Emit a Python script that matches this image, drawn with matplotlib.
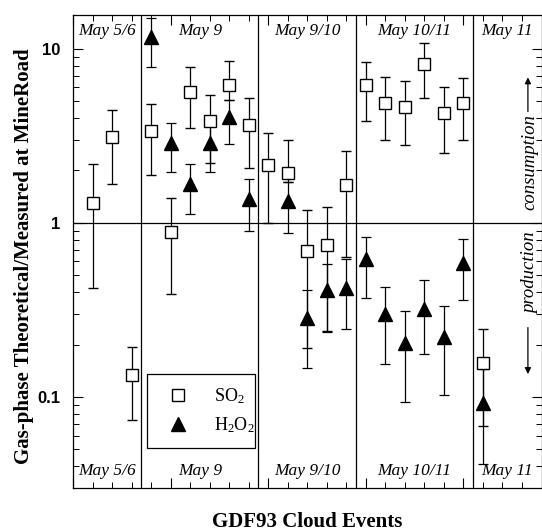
import numpy as np
import matplotlib
matplotlib.use("Agg")
import matplotlib.pyplot as plt
from matplotlib.ticker import LogLocator, NullFormatter, FixedLocator, MultipleLocator

# event windows and labels
EVENTS = ["May 5/6", "May 9", "May 9/10", "May 10/11", "May 11"]
EVENT_BOUNDS = [0, 3.5, 9.5, 14.5, 20.5, 24]

# SO2 ratio: sample index, value, lower, upper
SO2_X = [1, 2, 3, 4, 5, 6, 7, 8, 9, 10, 11, 12, 13, 14, 15, 16, 17, 18, 19, 20, 21]
SO2_V = [1.30, 3.12, 0.134, 3.38, 0.89, 5.67, 3.86, 6.2, 3.66, 2.15, 1.94, 0.69, 0.75,
         1.65, 6.2, 4.9, 4.64, 8.2, 4.29, 4.9, 0.157]
SO2_LO = [0.42, 1.68, 0.074, 1.89, 0.39, 3.52, 2.21, 5.1, 2.07, 1.0, 1.72, 0.19, 0.24,
          0.64, 3.86, 3.0, 2.8, 5.2, 2.53, 3.0, 0.068]
SO2_HI = [2.18, 4.46, 0.194, 4.83, 1.39, 7.87, 5.44, 8.5, 5.2, 3.29, 3.0, 1.19, 1.24,
          2.6, 8.4, 6.9, 6.56, 10.8, 6.0, 6.8, 0.246]

# H2O2 ratio
H2O2_X = [4, 5, 6, 7, 8, 9, 11, 12, 13, 14, 15, 16, 17, 18, 19, 20, 21]
H2O2_V = [11.6, 2.88, 1.67, 2.88, 4.06, 1.37, 1.34, 0.284, 0.41, 0.42, 0.62, 0.30,
          0.204, 0.32, 0.22, 0.59, 0.092]
H2O2_LO = [7.87, 1.96, 1.13, 1.96, 2.84, 0.90, 0.875, 0.147, 0.235, 0.246, 0.37, 0.155,
           0.093, 0.177, 0.103, 0.36, 0.041]
H2O2_HI = [14.9, 3.75, 2.18, 4.0, 5.1, 1.79, 1.72, 0.41, 0.58, 0.62, 0.83, 0.43,
           0.31, 0.47, 0.334, 0.81, 0.145]

SERIF = "Liberation Serif"
SANS = "Liberation Sans"

plt.rcParams["mathtext.fontset"] = "custom"
plt.rcParams["mathtext.rm"] = SERIF
plt.rcParams["mathtext.it"] = SERIF + ":italic"


def errs(v, lo, hi):
    v = np.array(v)
    return np.vstack([v - np.array(lo), np.array(hi) - v])


def main():
    fig = plt.figure(figsize=(5.42, 5.31), dpi=100)
    ax = fig.add_axes([73 / 542, 43 / 531, 468.5 / 542, 473 / 531])

    ax.errorbar(H2O2_X, H2O2_V, yerr=errs(H2O2_V, H2O2_LO, H2O2_HI), fmt="^",
                ms=9.5, mfc="black", mec="black", ecolor="black", elinewidth=0.9,
                capsize=3.8, capthick=0.9, label=r"H$_\mathrm{2}$O$_\mathrm{2}$", zorder=3)
    ax.errorbar(SO2_X, SO2_V, yerr=errs(SO2_V, SO2_LO, SO2_HI), fmt="s",
                ms=8, mfc="white", mec="black", mew=1.0, ecolor="black",
                elinewidth=0.9, capsize=3.8, capthick=0.9,
                label=r"SO$_\mathrm{2}$", zorder=4)

    ax.set_yscale("log")
    ax.set_ylim(0.030, 15.6)
    ax.set_xlim(EVENT_BOUNDS[0], EVENT_BOUNDS[-1])

    ax.axhline(1, color="black", lw=0.9, zorder=1)
    for b in EVENT_BOUNDS[1:-1]:
        ax.axvline(b, color="black", lw=0.9, zorder=1)

    for i, name in enumerate(EVENTS):
        xc = 0.5 * (EVENT_BOUNDS[i] + EVENT_BOUNDS[i + 1])
        for yf in (0.966, 0.036):
            ax.text(xc, yf, name, transform=ax.get_xaxis_transform(), ha="center",
                    va="center", family=SERIF, style="italic", fontsize=12.5)

    # ticks
    ax.yaxis.set_major_locator(FixedLocator([0.1, 1, 10]))
    ax.yaxis.set_minor_locator(LogLocator(base=10, subs=np.arange(2, 10)))
    ax.yaxis.set_minor_formatter(NullFormatter())
    ax.set_yticklabels(["0.1", "1", "10"])
    ax.xaxis.set_major_locator(MultipleLocator(5))
    ax.xaxis.set_minor_locator(MultipleLocator(1))
    ax.tick_params(which="both", direction="in", top=True, right=True, labelbottom=False)
    ax.tick_params(which="major", length=7, width=0.8, pad=9)
    ax.tick_params(which="minor", length=4, width=0.7)
    for lab in ax.get_yticklabels():
        lab.set_family(SANS)
        lab.set_weight("bold")
        lab.set_fontsize(12)
    for sp in ax.spines.values():
        sp.set_linewidth(0.9)

    ax.set_ylabel("Gas-phase Theoretical/Measured at MineRoad", family=SERIF,
                  weight="bold", fontsize=15)
    ax.yaxis.set_label_coords(-0.083, 0.49)
    fig.text(0.566, 0.017, "GDF93 Cloud Events", ha="center", va="center",
             family=SERIF, weight="bold", fontsize=15)

    # consumption / production annotations
    ax.text(0.976, 0.69, "consumption", transform=ax.transAxes, rotation=90,
            ha="center", va="center", family=SERIF, style="italic", fontsize=13.5)
    ax.annotate("", xy=(0.971, 0.874), xytext=(0.971, 0.79), xycoords="axes fraction",
                arrowprops=dict(arrowstyle="-|>", color="black", lw=0.9,
                                mutation_scale=9))
    ax.text(0.976, 0.455, "production", transform=ax.transAxes, rotation=90,
            ha="center", va="center", family=SERIF, style="italic", fontsize=13.5)
    ax.annotate("", xy=(0.971, 0.235), xytext=(0.971, 0.345), xycoords="axes fraction",
                arrowprops=dict(arrowstyle="-|>", color="black", lw=0.9,
                                mutation_scale=9))

    handles, labels = ax.get_legend_handles_labels()
    handles = [h[0] for h in handles[::-1]]
    leg = ax.legend(handles, labels[::-1], loc="lower left",
                    bbox_to_anchor=(0.158, 0.085, 0.231, 0.154), mode="expand",
                    prop={"family": SERIF, "size": 13}, fancybox=False,
                    edgecolor="black", framealpha=1, borderaxespad=0,
                    handletextpad=1.0, labelspacing=0.5, borderpad=0.7)
    leg.get_frame().set_linewidth(0.9)

    fig.savefig("out.png", dpi=100)
    plt.close(fig)


if __name__ == "__main__":
    main()
